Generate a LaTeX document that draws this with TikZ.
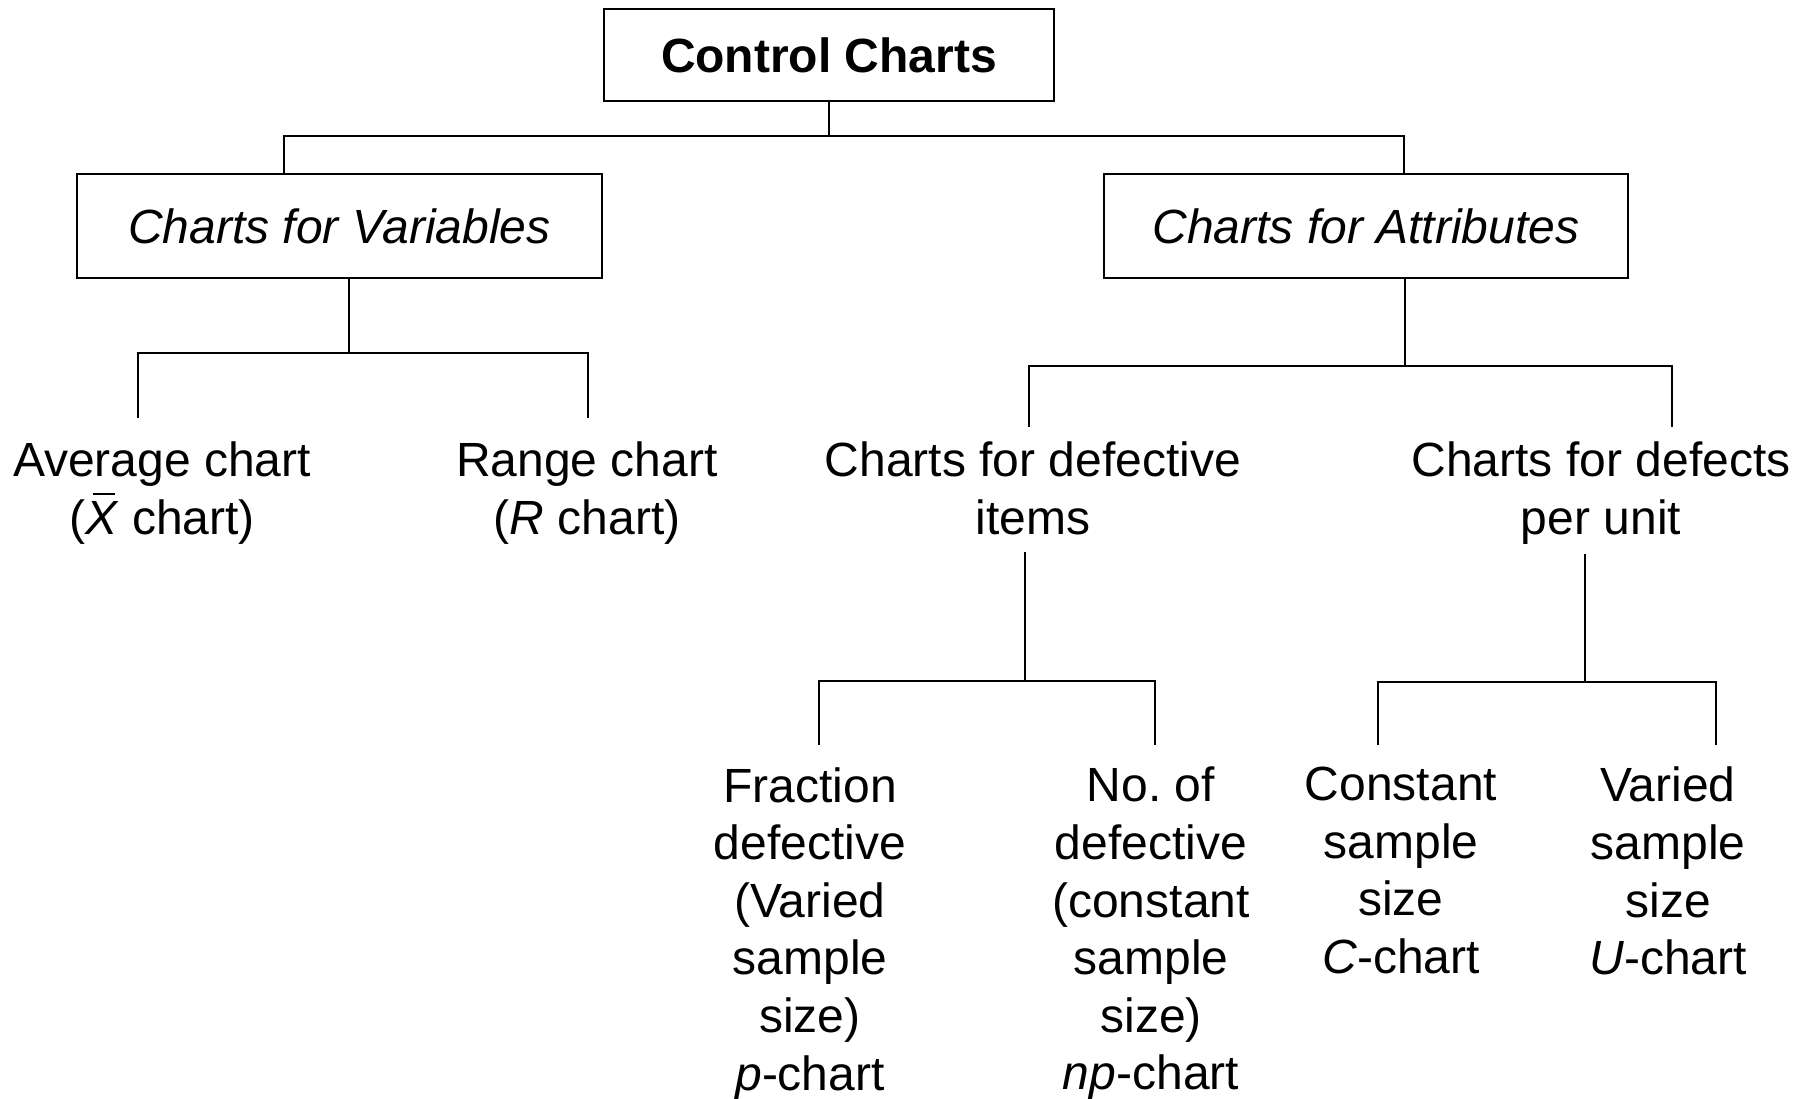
\documentclass[tikz,border=0pt]{standalone}
\usepackage{amsmath}
\usepackage{fontspec}
\setmainfont{Liberation Sans}
\usepackage{tikz}
\usetikzlibrary{calc,positioning}

\newcommand{\xbarsym}{\rlap{\hspace{0.16em}\rule[0.82em]{0.45em}{1.1pt}}\textit{X}}

\begin{document}
\begin{tikzpicture}[x=0.5pt, y=-0.5pt, line width=1.2pt,
      every node/.append style={font=\fontsize{24}{28.8}\selectfont},
      box/.style={draw, line width=1.4pt, inner sep=0pt},
      leaf/.style={anchor=north, align=center, inner sep=0pt}]
    \useasboundingbox (0,0) rectangle (1808,1098);
    \node (ROOT) [box, minimum width=225pt, minimum height=46pt] at (829,55) {\textbf{Control Charts}};
    \node (Variables) [box, minimum width=262.5pt, minimum height=52pt] at (339.5,226) {\textit{Charts for Variables}};
    \node (Attributes) [box, minimum width=262pt, minimum height=52pt] at (1366,226) {\textit{Charts for Attributes}};
    \node (Average) [leaf] at (162,441) {Average chart\\(\xbarsym\ chart)};
    \node (Range) [leaf] at (587,441) {Range chart\\(\textit{R} chart)};
    \node (Defective) [leaf] at (1033,441) {Charts for defective\\items};
    \node (Defects) [leaf] at (1601,441) {Charts for defects\\per unit};
    \node (Fraction) [leaf] at (810,766) {Fraction\\defective\\(Varied\\sample\\size)\\\textit{p}-chart};
    \node (Number) [leaf] at (1151,766) {No.\ of\\defective\\(constant\\sample\\size)\\\textit{np}-chart};
    \node (Constant) [leaf] at (1401,766) {Constant\\sample\\size\\\textit{C}-chart};
    \node (Varied) [leaf] at (1668,766) {Varied\\sample\\size\\\textit{U}-chart};

    \coordinate (ROOT-l) at (284,136);
    \coordinate (ROOT-r) at (1404,136);
    \coordinate (Variables-m) at (349,353);
    \coordinate (Variables-l) at (138,353);
    \coordinate (Variables-r) at (588,353);
    \coordinate (Attributes-m) at (1405,366);
    \coordinate (Attributes-l) at (1029,366);
    \coordinate (Attributes-r) at (1672,366);
    \coordinate (Defective-m) at (1025,681);
    \coordinate (Defective-l) at (819,681);
    \coordinate (Defective-r) at (1155,681);
    \coordinate (Defects-m) at (1585,682);
    \coordinate (Defects-l) at (1378,682);
    \coordinate (Defects-r) at (1716,682);

    \draw (ROOT.south) -- (ROOT.south |- ROOT-l);
    \draw (Variables.north -| ROOT-l) -- (ROOT-l) -- (ROOT-r) -- (Attributes.north -| ROOT-r);
    \draw (Variables.south -| Variables-m) -- (Variables-m);
    \draw[shorten <=11.5pt, shorten >=11.5pt] (Average.north -| Variables-l) -- (Variables-l) -- (Variables-r) -- (Range.north -| Variables-r);
    \draw (Attributes.south -| Attributes-m) -- (Attributes-m);
    \draw[shorten <=7pt, shorten >=7pt] (Defective.north -| Attributes-l) -- (Attributes-l) -- (Attributes-r) -- (Defects.north -| Attributes-r);
    \draw[shorten <=8pt] (Defective.south -| Defective-m) -- (Defective-m);
    \draw[shorten <=10.5pt, shorten >=10.5pt] (Fraction.north -| Defective-l) -- (Defective-l) -- (Defective-r) -- (Number.north -| Defective-r);
    \draw[shorten <=4pt] (Defects.south -| Defects-m) -- (Defects-m);
    \draw[shorten <=10.5pt, shorten >=10.5pt] (Constant.north -| Defects-l) -- (Defects-l) -- (Defects-r) -- (Varied.north -| Defects-r);
  \end{tikzpicture}
\end{document}
